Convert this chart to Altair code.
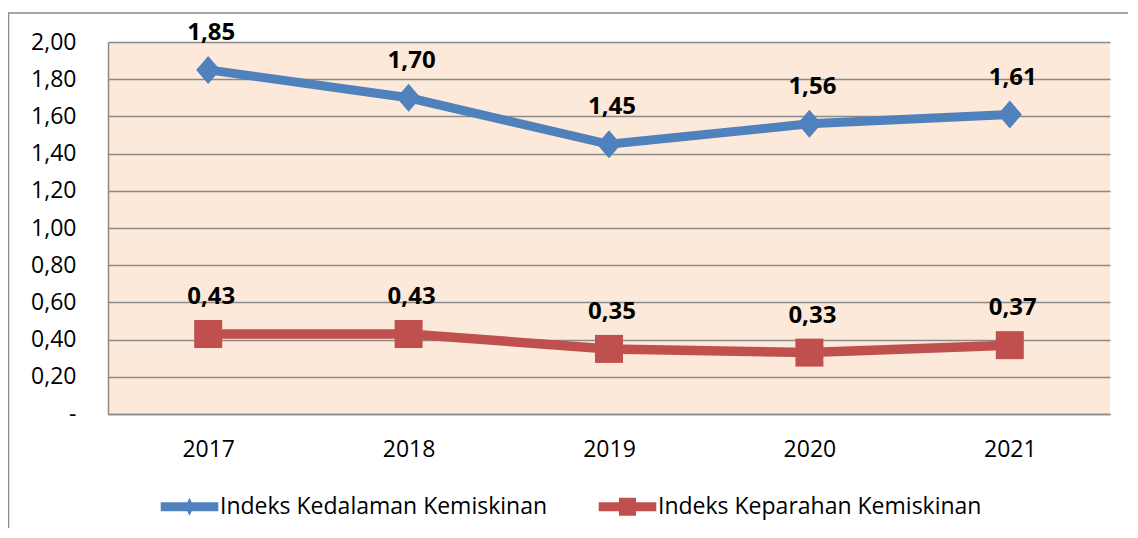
import altair as alt
import pandas as pd

years = ["2017", "2018", "2019", "2020", "2021"]
kedalaman = [1.85, 1.70, 1.45, 1.56, 1.61]
keparahan = [0.43, 0.43, 0.35, 0.33, 0.37]
series_names = ["Indeks Kedalaman Kemiskinan", "Indeks Keparahan Kemiskinan"]
y_ticks = [0, 0.2, 0.4, 0.6, 0.8, 1.0, 1.2, 1.4, 1.6, 1.8, 2.0]

FONT = "Open Sans"
BLUE = "#4F81BD"
RED = "#C0504D"
GRID = "#8A8A8A"

rows = []
for y, v in zip(years, kedalaman):
    rows.append({"year": y, "series": series_names[0], "value": v})
for y, v in zip(years, keparahan):
    rows.append({"year": y, "series": series_names[1], "value": v})
df = pd.DataFrame(rows)

color_scale = alt.Scale(domain=series_names, range=[BLUE, RED])
x_enc = alt.X("year:O", title=None,
              scale=alt.Scale(type="point", padding=0.5),
              axis=alt.Axis(labelAngle=0, ticks=False, grid=False, domainColor=GRID,
                            domainWidth=1.5, labelPadding=24, labelFontSize=23,
                            labelFont=FONT, labelColor="#000000"))
y_enc = alt.Y("value:Q", title=None,
              scale=alt.Scale(domain=[0, 2], nice=False, zero=True),
              axis=alt.Axis(values=y_ticks, ticks=False, grid=True, gridColor=GRID,
                            gridWidth=1.5, domainColor=GRID, domainWidth=1.5,
                            labelPadding=32, labelFontSize=23, labelFont=FONT,
                            labelColor="#000000",
                            labelExpr="datum.value == 0 ? '-' : replace(format(datum.value, '.2f'), '.', ',')"))

base = alt.Chart(df).encode(x=x_enc, y=y_enc)
blue_base = base.transform_filter(alt.datum.series == series_names[0])
red_base = base.transform_filter(alt.datum.series == series_names[1])

line_blue = blue_base.mark_line(strokeWidth=9, color=BLUE)
line_red = red_base.mark_line(strokeWidth=9.5, color=RED)

diamond_path = "M0,-1L0.86,0L0,1L-0.86,0Z"
pts_blue = blue_base.mark_point(shape=diamond_path, filled=True, size=784,
                                opacity=1, color=BLUE)
pts_red = red_base.mark_point(shape="square", filled=True, size=784,
                              opacity=1, color=RED)

labels = base.transform_calculate(
    lbl="replace(format(datum.value, '.2f'), '.', ',')"
).mark_text(fontSize=24, fontWeight="bold", font=FONT, color="#000000",
            dy=-37, dx=3, baseline="middle").encode(text="lbl:N")

leg_blue = ("M-3.2,-0.5L3.2,-0.5L3.2,0.5L-3.2,0.5Z"
            "M0,-1L0.5,0L0,1L-0.5,0Z")
leg_red = ("M-3.2,-0.5L3.2,-0.5L3.2,0.5L-3.2,0.5Z"
           "M-0.95,-1L0.95,-1L0.95,1L-0.95,1Z")
legend = alt.Legend(title=None, orient="none", direction="horizontal",
                    legendX=70, legendY=453, symbolSize=324, symbolStrokeWidth=0,
                    symbolOpacity=1, labelLimit=0,
                    labelFontSize=23, labelFont=FONT, labelColor="#000000",
                    labelOffset=19, columnPadding=50, padding=0)
legend_layer = base.transform_filter("false").mark_point(filled=True, opacity=1).encode(
    color=alt.Color("series:N", scale=color_scale, legend=legend),
    shape=alt.Shape("series:N", scale=alt.Scale(domain=series_names, range=[leg_blue, leg_red]),
                    legend=legend))

frame_df = pd.DataFrame({"k": [0]})
frame = alt.Chart(frame_df).mark_rect(filled=False, stroke=GRID, strokeWidth=1.5).encode(
    x=alt.value(-99.5), x2=alt.value(1045), y=alt.value(-29), y2=alt.value(520))

chart = alt.layer(frame, line_blue, line_red, pts_blue, pts_red, labels, legend_layer).properties(
    width=1002, height=372,
    autosize=alt.AutoSizeParams(type="none"),
    padding={"left": 100, "top": 34, "right": 18, "bottom": 114},
    background="white",
).configure_view(fill="#FDE9D9", stroke=None)

chart.save("out.html", embed_options={"renderer": "svg", "actions": False})
